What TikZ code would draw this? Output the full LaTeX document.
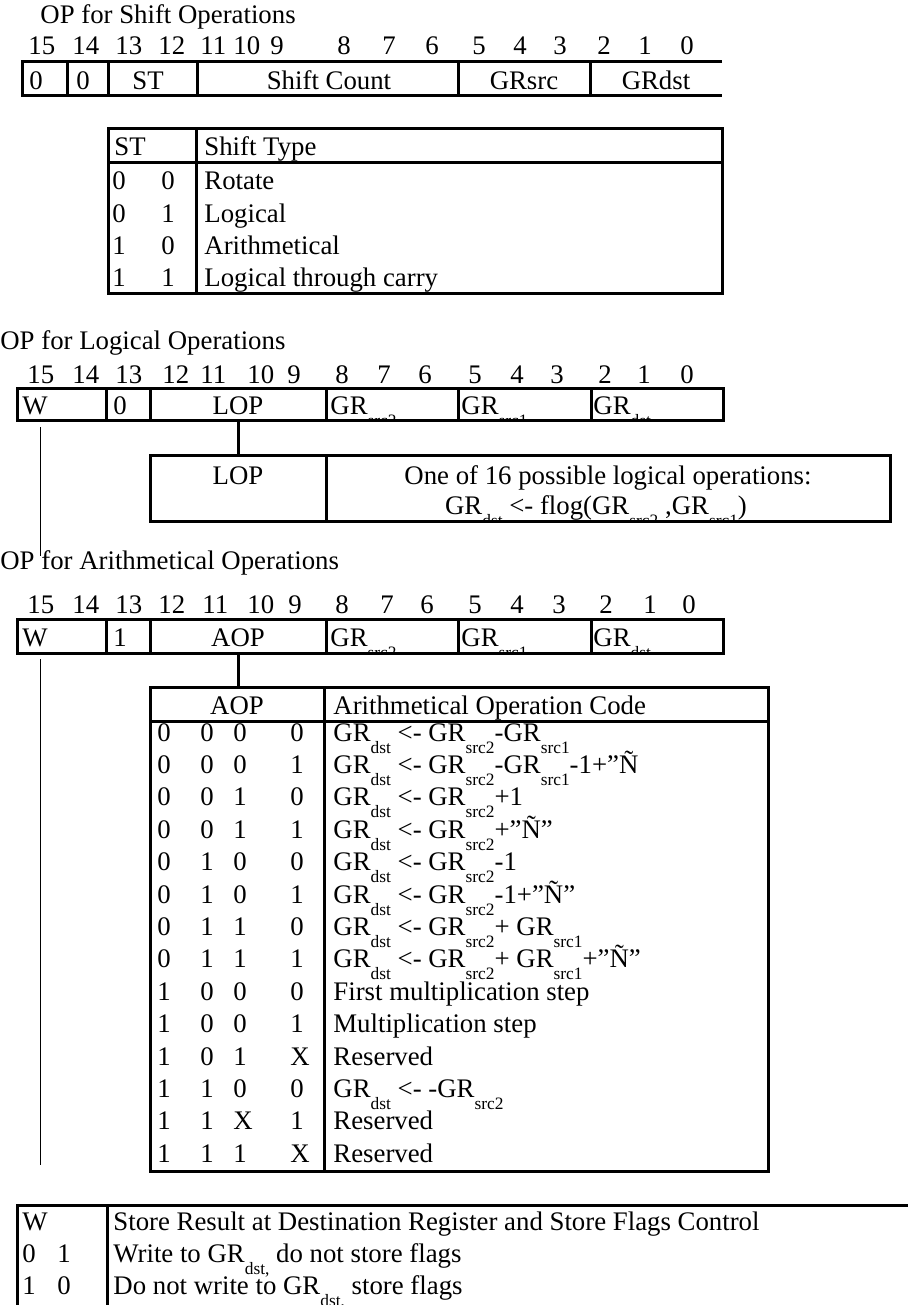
\documentclass[tikz,border=0pt]{standalone}
\usepackage{fontspec}
\setmainfont{Liberation Serif}
\newcommand{\sbx}[1]{\raisebox{-6pt}{\fontsize{8.7pt}{9pt}\selectfont #1}}
\newcommand{\aoprow}[6]{%
  \pgfmathsetmacro{\yb}{741+32.4*#1}%
  \node[tl] (ar#1a) at (157,\yb) {#2};%
  \node[tl] (ar#1b) at (200,\yb) {#3};%
  \node[tl] (ar#1c) at (233,\yb) {#4};%
  \node[tl] (ar#1d) at (290,\yb) {#5};%
  \node[tl] (ar#1t) at (333,\yb) {#6};%
}
\begin{document}
\begin{tikzpicture}[x=0.5pt,y=-0.5pt,
  tl/.style={inner sep=0pt, anchor=base west, font=\fontsize{13.4pt}{16pt}\selectfont},
  tc/.style={inner sep=0pt, anchor=base, font=\fontsize{13.4pt}{16pt}\selectfont},
  frame/.style={line width=1.5pt},
  thinline/.style={line width=0.5pt}]
\useasboundingbox (0,0) rectangle (908,1305);

% ---------- Section 1: shift operations ----------
\node[tl] (t1) at (40,24) {OP for Shift Operations};
\foreach \n/\x in {15/28,14/72,13/115,12/158,11/200,10/233,9/270,8/337,7/382,6/425,5/472,4/513,3/553,2/597,1/638,0/680}
  \node[tl] (sa\n) at (\x,55) {\n};
\draw[frame] (722,62) -- (22,62) -- (22,96) -- (722,96);
\foreach \x in {67,108,197,458,590} \draw[frame] (\x,62) -- (\x,96);
\node[tl] (sa0v) at (29,90) {0};
\node[tl] (sa1v) at (76,90) {0};
\node[tc] (sast) at (148,90) {ST};
\node[tc] (sasc) at (329,90) {Shift Count};
\node[tc] (sasrc) at (524,90) {GRsrc};
\node[tc] (sadst) at (656,90) {GRdst};

\draw[frame] (108,129) rectangle (722,293);
\draw[frame] (108,163) -- (722,163);
\draw[frame] (196,129) -- (196,293);
\node[tl] (sth1) at (114,156) {ST};
\node[tl] (sth2) at (204,156) {Shift Type};
\foreach \i/\a/\b/\t in {1/0/0/Rotate,2/0/1/Logical,3/1/0/Arithmetical,4/1/1/Logical through carry}{
  \pgfmathsetmacro{\yb}{190+32.2*(\i-1)}
  \node[tl] (st\i a) at (112,\yb) {\a};
  \node[tl] (st\i b) at (161,\yb) {\b};
  \node[tl] (st\i t) at (204,\yb) {\t};
}

% ---------- Section 2: logical operations ----------
\node[tl] (t2) at (0,349) {OP for Logical Operations};
\foreach \n/\x in {15/27,14/72,13/115,12/162,11/200,10/247,9/287,8/335,7/377,6/418,5/468,4/510,3/550,2/598,1/637,0/680}
  \node[tl] (sb\n) at (\x,383) {\n};
\begin{scope}
  \clip (17,388) rectangle (723,420);
  \node[tl] (lw) at (22,414) {W};
  \node[tl] (l13) at (113,414) {0};
  \node[tc] (llop) at (238,414) {LOP};
  \node[tl] (lsrc2) at (330,414) {GR\sbx{src2}};
  \node[tl] (lsrc1) at (461,414) {GR\sbx{src1}};
  \node[tl] (ldst) at (593,414) {GR\sbx{dst}};
\end{scope}
\draw[frame] (17,388) rectangle (723,420);
\foreach \x in {106,150,326,458,591} \draw[frame] (\x,388) -- (\x,420);

\coordinate (lwA) at (40,427);
\coordinate (lwB) at (40,556);
\draw[thinline] (lwA) -- (lwB);
\coordinate (lopA) at (238,420);
\coordinate (lopB) at (238,455);
\draw[frame] (lopA) -- (lopB);

\begin{scope}
  \clip (150,455) rectangle (890,521);
  \node[tc] (lbl) at (238,484) {LOP};
  \node[tc] (lbd1) at (608,484) {One of 16 possible logical operations:};
  \node[tc] (lbd2) at (596,514) {GR\sbx{dst} <- flog(GR\sbx{src2} ,GR\sbx{src1})};
\end{scope}
\draw[frame] (150,455) rectangle (890,521);
\draw[frame] (326,455) -- (326,521);

% ---------- Section 3: arithmetical operations ----------
\node[tl] (t3) at (0,569) {OP for Arithmetical Operations};
\foreach \n/\x in {15/27,14/72,13/115,12/158,11/202,10/247,9/288,8/335,7/380,6/420,5/468,4/510,3/552,2/599,1/643,0/682}
  \node[tl] (sc\n) at (\x,613) {\n};
\begin{scope}
  \clip (17,619) rectangle (723,653);
  \node[tl] (aw) at (22,646) {W};
  \node[tl] (a13) at (113,646) {1};
  \node[tc] (aaop) at (238,646) {AOP};
  \node[tl] (asrc2) at (330,646) {GR\sbx{src2}};
  \node[tl] (asrc1) at (461,646) {GR\sbx{src1}};
  \node[tl] (adst) at (593,646) {GR\sbx{dst}};
\end{scope}
\draw[frame] (17,619) rectangle (723,653);
\foreach \x in {106,150,326,458,591} \draw[frame] (\x,619) -- (\x,653);

\coordinate (awA) at (40,659);
\coordinate (awB) at (40,1165);
\draw[thinline] (awA) -- (awB);
\coordinate (aopA) at (238,653);
\coordinate (aopB) at (238,687);
\draw[frame] (aopA) -- (aopB);

\draw[frame] (150,687) rectangle (768,1171);
\draw[frame] (150,721) -- (768,721);
\draw[frame] (324,687) -- (324,1171);
\node[tc] (ah1) at (237,714) {AOP};
\node[tl] (ah2) at (333,714) {Arithmetical Operation Code};
\aoprow{0}{0}{0}{0}{0}{GR\sbx{dst} <- GR\sbx{src2}-GR\sbx{src1}}
\aoprow{1}{0}{0}{0}{1}{GR\sbx{dst} <- GR\sbx{src2}-GR\sbx{src1}-1+”Ñ}
\aoprow{2}{0}{0}{1}{0}{GR\sbx{dst} <- GR\sbx{src2}+1}
\aoprow{3}{0}{0}{1}{1}{GR\sbx{dst} <- GR\sbx{src2}+”Ñ”}
\aoprow{4}{0}{1}{0}{0}{GR\sbx{dst} <- GR\sbx{src2}-1}
\aoprow{5}{0}{1}{0}{1}{GR\sbx{dst} <- GR\sbx{src2}-1+”Ñ”}
\aoprow{6}{0}{1}{1}{0}{GR\sbx{dst} <- GR\sbx{src2}+ GR\sbx{src1}}
\aoprow{7}{0}{1}{1}{1}{GR\sbx{dst} <- GR\sbx{src2}+ GR\sbx{src1}+”Ñ”}
\aoprow{8}{1}{0}{0}{0}{First multiplication step}
\aoprow{9}{1}{0}{0}{1}{Multiplication step}
\aoprow{10}{1}{0}{1}{X}{Reserved}
\aoprow{11}{1}{1}{0}{0}{GR\sbx{dst} <- -GR\sbx{src2}}
\aoprow{12}{1}{1}{X}{1}{Reserved}
\aoprow{13}{1}{1}{1}{X}{Reserved}

% ---------- Section 4: W table ----------
\draw[frame] (908,1205) -- (17,1205) -- (17,1310);
\draw[frame] (107,1205) -- (107,1310);
\node[tl] (wh1) at (22,1230) {W};
\node[tl] (wh2) at (113,1230) {Store Result at Destination Register and Store Flags Control};
\node[tl] (w1a) at (22,1262) {0};
\node[tl] (w1b) at (57,1262) {1};
\node[tl] (w1t) at (113,1262) {Write to GR\sbx{dst,} do not store flags};
\node[tl] (w2a) at (22,1294) {1};
\node[tl] (w2b) at (57,1294) {0};
\node[tl] (w2t) at (113,1294) {Do not write to GR\sbx{dst,} store flags};
\end{tikzpicture}
\end{document}
